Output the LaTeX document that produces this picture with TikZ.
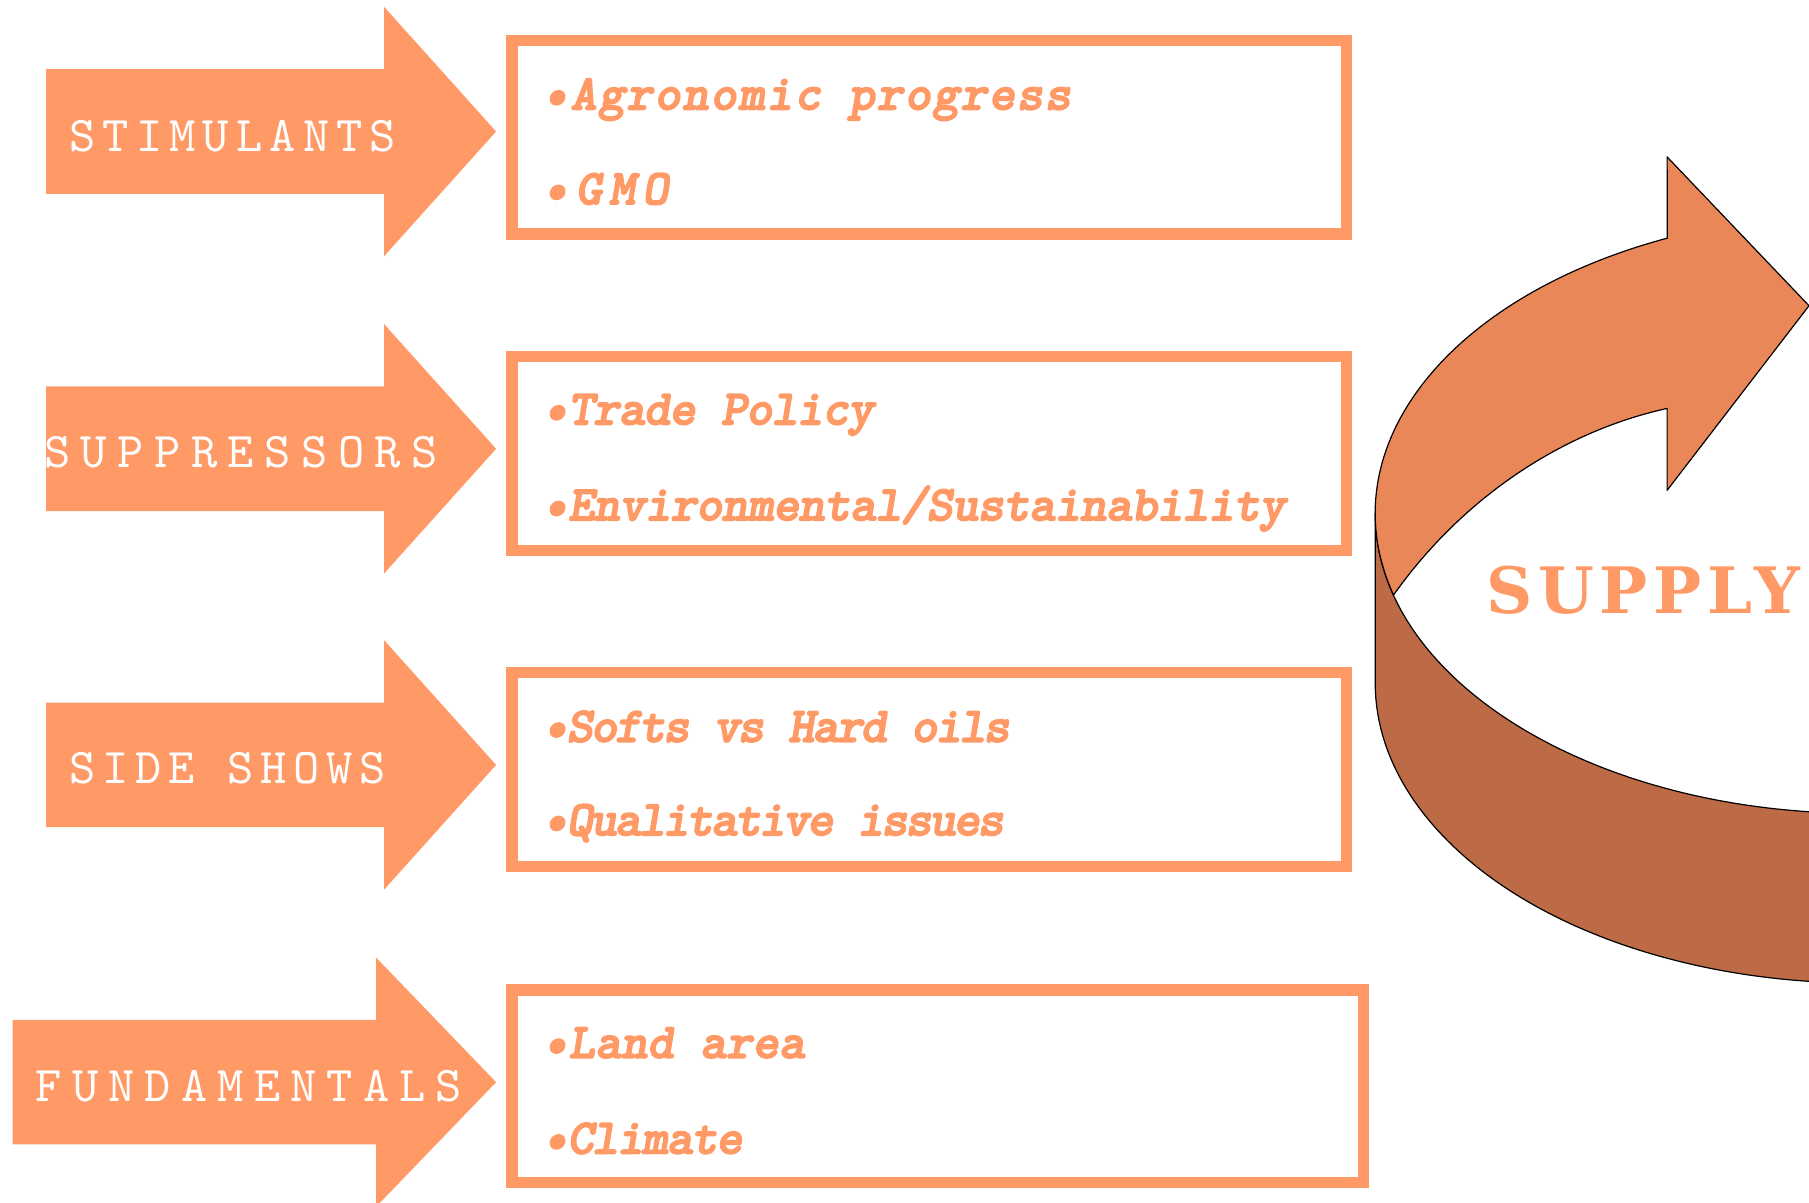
\documentclass[tikz,border=0pt]{standalone}
\usepackage{fontspec}
\usetikzlibrary{calc}
\newfontfamily\supplyfam{DejaVu Serif}
\newfontfamily\lmmono{lmmono10-regular}[Extension=.otf]
\newfontfamily\itemfam{lmmonolt10-boldoblique}[Extension=.otf, FakeBold=3]
\definecolor{boxc}{HTML}{FF9966}
\definecolor{ribtop}{HTML}{EA8759}
\definecolor{ribside}{HTML}{BD6A46}
\newcommand\lsp[1]{\addfontfeature{LetterSpace=#1}}
\begin{document}
\begin{tikzpicture}[x=1.1537pt,y=1.1537pt,
  frame/.style={draw=boxc,line width=11.5pt},
  arrlabel/.style={anchor=base west,inner sep=0pt,text=white,font=\lmmono\fontsize{50}{50}\selectfont},
  itemtext/.style={anchor=base west,inner sep=0pt,text=boxc,font=\itemfam\fontsize{50}{50}\selectfont},
  ribbon/.style={draw=black,line width=1.2pt,line join=round}
]
\useasboundingbox (0,0) rectangle (1568,-1041.9);

% left arrows
\fill[boxc] (40,-60) -- (333,-60) -- (333,-6) -- (430,-114) -- (333,-222) -- (333,-168) -- (40,-168) -- cycle;
\fill[boxc] (40,-335) -- (333,-335) -- (333,-281) -- (430,-389) -- (333,-497) -- (333,-443) -- (40,-443) -- cycle;
\fill[boxc] (40,-609) -- (333,-609) -- (333,-555) -- (430,-663) -- (333,-771) -- (333,-717) -- (40,-717) -- cycle;
\fill[boxc] (11,-884) -- (326,-884) -- (326,-830) -- (430,-938) -- (326,-1046) -- (326,-992) -- (11,-992) -- cycle;

\node[arrlabel] (stim) at (60,-131) {\lsp{14.3}STIMULANTS};
\node[arrlabel] (supp) at (38,-405) {\lsp{21}SUPPRESSORS};
\node[arrlabel] (side) at (60,-679) {\lsp{13.4}SIDE SHOWS};
\node[arrlabel] (fund) at (31,-955) {\lsp{20.2}FUNDAMENTALS};

% boxes
\draw[frame] (444,-35) rectangle (1167,-203);
\draw[frame] (444,-309) rectangle (1167,-477);
\draw[frame] (444,-583) rectangle (1167,-751);
\draw[frame] (444,-858) rectangle (1182,-1025);

\node[itemtext] (t1) at (470,-95) {\lsp{3.5}•Agronomic progress};
\node[itemtext] (t2) at (470,-177) {\lsp{14}•GMO};
\node[itemtext] (t3) at (470,-368) {\lsp{-1.8}•Trade Policy};
\node[itemtext] (t4) at (470,-451) {\lsp{-1.3}•Environmental/Sustainability};
\node[itemtext] (t5) at (470,-643) {\lsp{-4.2}•Softs vs Hard oils};
\node[itemtext] (t6) at (470,-724) {\lsp{-4.4}•Qualitative issues};
\node[itemtext] (t7) at (470,-917) {•Land area};
\node[itemtext] (t8) at (470,-1000) {\lsp{-2.9}•Climate};

% ribbon arrow
\begin{scope}
\clip (0,0) rectangle (1568,-1041.9);
\coordinate (O) at (1612,-445);
\coordinate (Ob) at (1612,-592);
\path[ribbon,fill=ribside] ($(O)+(180:420 and 260)$) arc[start angle=180,end angle=300,x radius=420,y radius=260]
  -- ($(Ob)+(300:420 and 260)$) arc[start angle=300,end angle=180,x radius=420,y radius=260] -- cycle;
\path[ribbon,fill=ribtop] ($(O)+(195.8:420 and 260)$) arc[start angle=195.8,end angle=113.4,x radius=420,y radius=260]
  -- (1445,-136) -- (1568,-265) -- (1445,-425) -- (1445,-354)
  .. controls (1350,-375) and (1265,-435) .. cycle;
\end{scope}
\node[anchor=base west,inner sep=0pt,text=boxc,font=\supplyfam\bfseries\fontsize{64}{64}\selectfont] (supply) at (1288,-532) {\lsp{9}SUPPLY};
\end{tikzpicture}
\end{document}
